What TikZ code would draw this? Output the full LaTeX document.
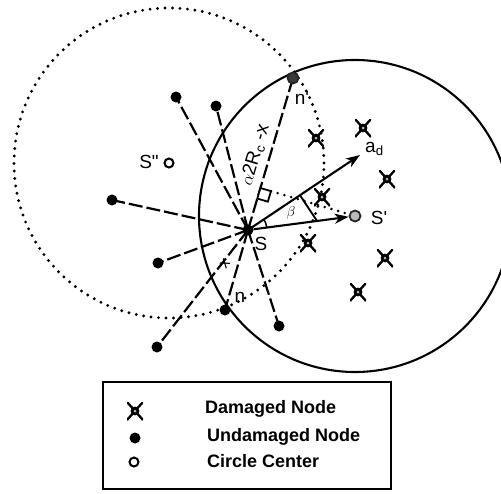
\documentclass[tikz,border=0pt]{standalone}
\usepackage{fontspec}
\setmainfont{Liberation Sans}[Ligatures=TeXOff]
\usetikzlibrary{calc,arrows.meta}

\tikzset{
  link/.style={line width=2.2pt, dash pattern=on 14pt off 4pt},
  rim/.style={line width=2.1pt},
  dotring/.style={line width=3.2pt, line cap=round, dash pattern=on 0pt off 7.5pt},
  dotline/.style={line width=2.8pt, line cap=round, dash pattern=on 0pt off 7pt},
  arr/.style={line width=2.1pt, -{Stealth[length=14pt,width=10pt,inset=4pt]}},
  good/.style={circle, fill=black, inner sep=0pt, minimum size=11pt},
  hub/.style={circle, fill=black, inner sep=0pt, minimum size=11pt},
  ctr/.style={circle, draw=black, line width=2pt, fill=white, inner sep=0pt, minimum size=9pt},
  ring/.style={circle, draw=black!85, line width=1.8pt, inner sep=0pt, minimum size=11pt},
  hurt/.style={rectangle, inner sep=0pt, minimum width=16pt, minimum height=18pt,
    path picture={
      \draw[line width=2.3pt] (path picture bounding box.south west) -- (path picture bounding box.north east);
      \draw[line width=2.3pt] (path picture bounding box.north west) -- (path picture bounding box.south east);
      \fill[black] (path picture bounding box.center) circle[radius=4.4pt];
      \fill[gray!55] (path picture bounding box.center) circle[radius=1.5pt];
    }},
  lbl/.style={font=\fontsize{19}{19}\selectfont, inner sep=0pt},
  legtxt/.style={font=\bfseries\fontsize{18}{18}\selectfont, anchor=west, inner sep=0pt},
}

\begin{document}
\begin{tikzpicture}[x=1pt,y=-1pt]
\useasboundingbox (0,0) rectangle (501,493);

% centres and sensor positions
\coordinate (Sc) at (355,216);
\coordinate (Sdc) at (169,163);
\coordinate (S0) at (248,230);
\coordinate (ad) at (360,155);

% coverage circles
\begin{scope}
  \clip (0,0) rectangle (501,493);
  \draw[rim] (Sc) circle[radius=156pt];
\end{scope}
\draw[dotring] (Sdc) circle[radius=155pt];

% node positions
\coordinate (npc) at (293,78);
\coordinate (nc) at (225,310);

% dashed links from S to its neighbours
\foreach \p in {(176,97),(216,106),(112,200),(158,263),(157,347),(279,326)}
  \draw[link] (S0) -- \p;
\draw[link] (S0) -- (npc);
\draw[link] (S0) -- (nc);

% perpendicular foot on S--n'
\coordinate (F) at ($(S0)!(Sc)!(npc)$);
\coordinate (Fa) at ($(F)!11pt!(Sc)$);
\coordinate (Fb) at ($(F)!11pt!(S0)$);
\draw[dotline] (Fa) -- (Sc);
\draw[line width=1.8pt, fill=white] (F) -- (Fa) -- ($(Fa)+(Fb)-(F)$) -- (Fb) -- cycle;

% direction vectors and angle beta
\draw[arr] (S0) -- (ad);
\coordinate (B1) at ($(S0)!0.464!(ad)$);
\coordinate (B2) at ($(S0)!0.645!(Sc)$);
\draw[line width=1.9pt] (B1) -- (B2);
\draw[line width=1.5pt] ([shift={(7.5:19pt)}]S0) arc[start angle=7.5, end angle=33.8, radius=19pt];

% undamaged nodes
\node[good] (u1) at (176,97) {};
\node[good] (u2) at (216,106) {};
\node[good] (u3) at (112,200) {};
\node[good] (u4) at (158,263) {};
\node[good] (u5) at (157,347) {};
\node[good] (u6) at (279,326) {};
\node[good] (n) at (nc) {};
\node[ring, fill=gray!45!black] (np) at (npc) {};
\node[hub] (S) at (S0) {};

% damaged nodes
\node[hurt] (d1) at (316,138) {};
\node[hurt] (d2) at (363,128) {};
\node[hurt] (d3) at (387,179) {};
\node[hurt] (d4) at (322,197) {};
\node[hurt] (d5) at (308,243) {};
\node[hurt] (d6) at (385,258) {};
\node[hurt] (d7) at (358,292) {};

% circle centres
\node[ring, fill=gray!55] (Sp) at (Sc) {};
\node[ctr] (Sdd) at (Sdc) {};
\draw[arr] (S) -- (Sp);

% labels
\node[lbl] (tS) at (261,244) {S};
\node[lbl] (tSp) at (379,218) {S'};
\node[lbl] (tSdd) at (149,162) {S"};
\node[lbl] (tnp) at (302,98) {n'};
\node[lbl] (tn) at (240,297) {n};
\node[lbl, anchor=west] (tad) at (365,149) {a\textsubscript{d}};
\node[font=\fontsize{15}{15}\selectfont, inner sep=0pt] (tb) at (291,213) {$\beta$};
\node[lbl, rotate=73.5] (tdist) at (255,155) {$\alpha$2R\textsubscript{c} -x};
\node[font=\fontsize{16}{16}\selectfont, inner sep=0pt, rotate=52] (tx) at (225,264) {x};

% legend
\draw[line width=2.3pt] (103,382) rectangle (391,489);
\node[hurt] (kd) at (135,411) {};
\node[good] (kg) at (135,438) {};
\node[ctr] (kc) at (134,462) {};
\node[legtxt] (ld) at (205,409) {Damaged Node};
\node[legtxt] (lg) at (207,437) {Undamaged Node};
\node[legtxt] (lc) at (207,461) {Circle Center};
\end{tikzpicture}
\end{document}
